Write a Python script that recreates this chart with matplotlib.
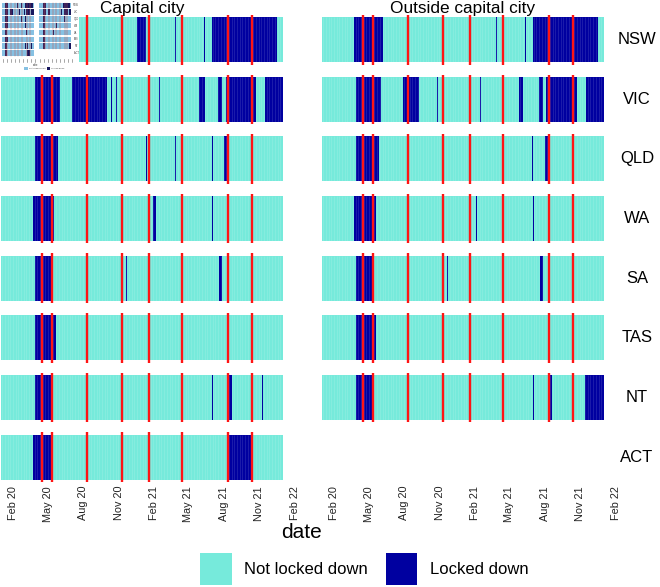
import numpy as np
import matplotlib
matplotlib.use("Agg")
import matplotlib.pyplot as plt
import matplotlib.dates as mdates
from matplotlib.patches import Rectangle

plt.rcParams['font.family'] = ['Liberation Sans', 'DejaVu Sans']

# ---- data ----
states = ["NSW", "VIC", "QLD", "WA", "SA", "TAS", "NT", "ACT"]
panel_titles = ["Capital city", "Outside capital city"]

start_date = "2020-01-01"
end_date = "2022-01-01"

# survey waves (red lines)
survey_dates = ["2020-04-16", "2020-05-12", "2020-08-10", "2020-11-09",
                "2021-01-18", "2021-04-14", "2021-08-11", "2021-10-12"]

tick_dates = ["2020-02-01", "2020-05-01", "2020-08-01", "2020-11-01",
              "2021-02-01", "2021-05-01", "2021-08-01", "2021-11-01", "2022-02-01"]

# lockdown periods (start, end) for capital city / outside capital city
nsw_capital = [("2020-03-24", "2020-06-08"), ("2020-12-18", "2021-01-11"), ("2021-03-28", "2021-03-29"),
               ("2021-06-10", "2021-06-11"), ("2021-07-01", "2021-12-16")]
nsw_outside = [("2020-03-24", "2020-06-08"), ("2021-03-27", "2021-03-28"), ("2021-06-10", "2021-06-11"),
               ("2021-06-30", "2021-12-16")]
vic_capital = [("2020-03-29", "2020-06-02"), ("2020-07-02", "2020-10-01"), ("2020-10-12", "2020-10-13"),
               ("2020-10-24", "2020-10-25"), ("2021-02-13", "2021-02-17"), ("2021-05-27", "2021-06-12"),
               ("2021-07-16", "2021-07-27"), ("2021-08-05", "2021-10-24"), ("2021-11-15", "2022-01-01")]
vic_outside = [("2020-03-28", "2020-06-02"), ("2020-07-30", "2020-09-09"), ("2020-10-24", "2020-10-25"),
               ("2021-02-13", "2021-02-16"), ("2021-05-26", "2021-06-04"), ("2021-07-16", "2021-07-27"),
               ("2021-08-03", "2021-10-22"), ("2021-11-15", "2022-01-01")]
qld_capital = [("2020-03-29", "2020-05-28"), ("2021-01-10", "2021-01-12"), ("2021-03-28", "2021-03-30"),
               ("2021-06-30", "2021-07-02"), ("2021-08-01", "2021-08-10")]
qld_outside = [("2020-03-29", "2020-05-28"), ("2021-06-29", "2021-06-30"), ("2021-08-01", "2021-08-09")]
wa_capital = [("2020-03-25", "2020-05-18"), ("2021-01-30", "2021-02-06"), ("2021-06-30", "2021-07-03")]
wa_outside = [("2020-03-24", "2020-05-19"), ("2021-02-02", "2021-02-04"), ("2021-07-01", "2021-07-03")]
sa_capital = [("2020-03-29", "2020-05-11"), ("2020-11-19", "2020-11-21"), ("2021-07-20", "2021-07-27")]
sa_outside = [("2020-03-28", "2020-05-09"), ("2020-11-19", "2020-11-21"), ("2021-07-20", "2021-07-28")]
tas_capital = [("2020-03-29", "2020-05-22")]
tas_outside = [("2020-03-28", "2020-05-20")]
nt_capital = [("2020-03-29", "2020-05-11"), ("2021-06-30", "2021-07-02"), ("2021-08-14", "2021-08-21"),
              ("2021-11-08", "2021-11-10")]
nt_outside = [("2020-03-28", "2020-05-09"), ("2021-06-30", "2021-07-01"), ("2021-08-12", "2021-08-20"),
              ("2021-11-13", "2022-01-01")]
act_capital = [("2020-03-24", "2020-05-12"), ("2021-08-12", "2021-10-12")]
act_outside = None

lockdowns = {
    "NSW": [nsw_capital, nsw_outside],
    "VIC": [vic_capital, vic_outside],
    "QLD": [qld_capital, qld_outside],
    "WA": [wa_capital, wa_outside],
    "SA": [sa_capital, sa_outside],
    "TAS": [tas_capital, tas_outside],
    "NT": [nt_capital, nt_outside],
    "ACT": [act_capital, act_outside],
}

legend_labels = ["Not locked down", "Locked down"]

# ---- style ----
AQUA = "#76EADB"
NAVY = "#0000A0"
RED = "#FF1414"
W, H = 660, 587
MIN_DAYS = 2.6  # so one-day lockdowns still show up as ~1px lines


def dnum(s):
    return mdates.date2num(np.datetime64(s))


def px_axes(fig, left, top, width, height):
    return fig.add_axes([left / W, 1 - (top + height) / H, width / W, height / H])


fig = plt.figure(figsize=(W / 100, H / 100), dpi=100)

t0, t1 = dnum(start_date), dnum(end_date)
pad = (t1 - t0) * 0.05
px_per_day = 282 / (t1 - t0)
panel_w = (t1 - t0 + 2 * pad) * px_per_day
col_left = [1 - pad * px_per_day, 322 - pad * px_per_day]
row_h = 49.5
row_centers = [39.8 + 59.6 * i for i in range(len(states))]
week_seams = np.arange(t0 + 3, t1, 7)

for i, st in enumerate(states):
    for j in range(2):
        ax = px_axes(fig, col_left[j], row_centers[i] - row_h / 2, panel_w, row_h)
        ax.set_xlim(t0 - pad, t1 + pad)
        ax.set_ylim(-0.55, 0.55)
        ax.set_yticks([])
        for sp in ax.spines.values():
            sp.set_visible(False)
        periods = lockdowns[st][j]
        if periods is not None:
            ax.broken_barh([(t0, t1 - t0)], (-0.5, 1), facecolors=AQUA, linewidth=0)
            ax.broken_barh([(dnum(a), max(dnum(b) - dnum(a), MIN_DAYS)) for a, b in periods], (-0.5, 1),
                           facecolors=NAVY, linewidth=0)
            # faint seams between the daily tiles
            ax.vlines(week_seams, -0.5, 0.5, colors="white", lw=0.4, alpha=0.2)
            for d in survey_dates:
                ax.axvline(dnum(d), color=RED, lw=1.7)
        ax.set_xticks([dnum(d) for d in tick_dates])
        if i == len(states) - 1:
            ax.xaxis.set_major_formatter(mdates.DateFormatter("%b %y"))
            ax.tick_params(axis="x", length=0, pad=3, labelsize=7.8, labelrotation=90, colors="#222222")
        else:
            ax.tick_params(axis="x", length=0, labelbottom=False)
    fig.text(637 / W, 1 - row_centers[i] / H, st, ha="center", va="center", fontsize=12)

for j, title in enumerate(panel_titles):
    fig.text((col_left[j] + panel_w / 2) / W, 1 - 13.5 / H, title, ha="center", va="baseline", fontsize=12.4)

fig.text(302 / W, 1 - 532 / H, "date", ha="center", va="center", fontsize=15)

# legend
leg = fig.add_axes([0, 0, 1, 1], zorder=5)
leg.set_xlim(0, W)
leg.set_ylim(H, 0)
leg.axis("off")
for (x0, x1, tx), col, lab in zip([(200, 232, 244), (386, 417, 430)], [AQUA, NAVY], legend_labels):
    leg.add_patch(Rectangle((x0, 553), x1 - x0, 32, facecolor=col, edgecolor="none"))
    leg.text(tx, 569, lab, ha="left", va="center", fontsize=12)

# small thumbnail pasted in the top-left corner
th = fig.add_axes([0, 1 - 72 / H, 79 / W, 72 / H], zorder=10)
th.set_xlim(0, 79)
th.set_ylim(72, 0)
th.axis("off")
th.add_patch(Rectangle((0, 0), 79, 72, facecolor="white", edgecolor="none"))
mini_x = [1.5, 39]
mini_w = 32
for i, st in enumerate(states):
    y = 2.5 + 6.8 * i
    for j in range(2):
        periods = lockdowns[st][j]
        if periods is None:
            continue
        th.add_patch(Rectangle((mini_x[j], y), mini_w, 5.6, facecolor="#86C1E3", edgecolor="none"))
        for a, b in periods:
            xa = mini_x[j] + (dnum(a) - t0) / (t1 - t0) * mini_w
            xb = mini_x[j] + (dnum(b) - t0) / (t1 - t0) * mini_w
            th.add_patch(Rectangle((xa, y), max(xb - xa, 0.4), 5.6, facecolor="#17175E", edgecolor="none"))
        for d in survey_dates:
            xd = mini_x[j] + (dnum(d) - t0) / (t1 - t0) * mini_w
            th.plot([xd, xd], [y, y + 5.6], color="#C0504A", lw=0.35)
    th.text(76, y + 2.8, st, fontsize=1.8, ha="center", va="center", color="#444444")
for j in range(2):
    for d in tick_dates:
        xd = mini_x[j] + (dnum(d) - t0) / (t1 - t0) * mini_w
        th.plot([xd, xd], [58.5, 62], color="#666666", lw=0.4)
th.text(36, 64.5, "date", fontsize=2, ha="center", va="center", color="#444444")
th.add_patch(Rectangle((24, 67), 4, 3, facecolor="#86C1E3", edgecolor="none"))
th.add_patch(Rectangle((47, 67), 3, 3, facecolor="#17175E", edgecolor="none"))
th.text(29, 68.5, "Not locked down", fontsize=1.6, va="center", color="#444444")
th.text(51, 68.5, "Locked down", fontsize=1.6, va="center", color="#444444")

fig.savefig("out.png", dpi=100)
